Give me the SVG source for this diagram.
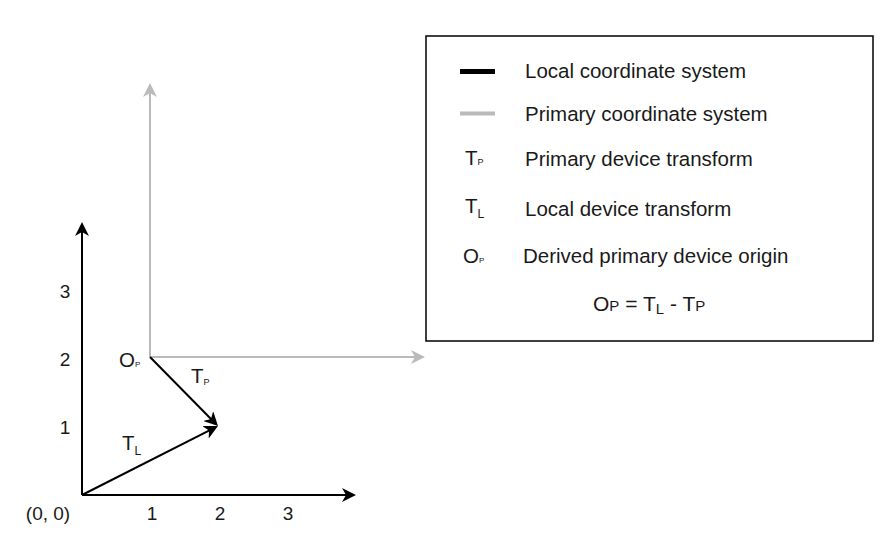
<svg xmlns="http://www.w3.org/2000/svg" width="894" height="552" viewBox="0 0 894 552">
  <style>
    text { font-family: "Liberation Sans", Arial, Helvetica, sans-serif; fill: #1a1a1a; }
    .t20 { font-size: 20.5px; }
    .num { font-size: 19px; text-anchor: middle; }
    .blk { stroke: #000; stroke-width: 2; fill: none; }
    .gry { stroke: #bababa; stroke-width: 2; fill: none; }
  </style>
  <defs>
    <marker id="ab" viewBox="0 0 14 14" refX="10" refY="7" markerWidth="14" markerHeight="14" markerUnits="userSpaceOnUse" orient="auto">
      <path d="M0,0 L14,7 L0,14 L4,7 Z" fill="#000"/>
    </marker>
    <marker id="ag" viewBox="0 0 14 14" refX="10" refY="7" markerWidth="14" markerHeight="14" markerUnits="userSpaceOnUse" orient="auto">
      <path d="M0,0 L14,7 L0,14 L4,7 Z" fill="#bababa"/>
    </marker>
  </defs>
  <rect width="894" height="552" fill="#fff"/>

  <g id="connectors">
    <path id="primary-y" class="gry" d="M150,357 L150,87" marker-end="url(#ag)"/>
    <path id="primary-x" class="gry" d="M150,357 L421,357" marker-end="url(#ag)"/>
    <path id="local-y" class="blk" d="M82,495 L82,226" marker-end="url(#ab)"/>
    <path id="local-x" class="blk" d="M82,495 L352,495" marker-end="url(#ab)"/>
    <path id="vec-tp" class="blk" d="M150,357 L215.2,423.2" marker-end="url(#ab)"/>
    <path id="vec-tl" class="blk" d="M82,495 L214.4,427.8" marker-end="url(#ab)"/>
  </g>

  <g id="axis-labels">
    <text class="num" x="65" y="298">3</text>
    <text class="num" x="65" y="366">2</text>
    <text class="num" x="65" y="434">1</text>
    <text class="num" x="48" y="520">(0, 0)</text>
    <text class="num" x="152" y="520">1</text>
    <text class="num" x="220" y="520">2</text>
    <text class="num" x="288" y="520">3</text>
  </g>

  <g id="vector-labels">
    <text id="lbl-op" class="t20" x="119" y="367">O<tspan font-size="8">P</tspan></text>
    <text id="lbl-tp" class="t20" x="191" y="383">T<tspan font-size="9" dy="2">P</tspan></text>
    <text id="lbl-tl" class="t20" x="122" y="450">T<tspan font-size="12" dy="5">L</tspan></text>
  </g>

  <g id="legend">
    <rect x="426" y="36" width="447" height="305" fill="#fff" stroke="#000" stroke-width="1.5"/>
    <line x1="460" y1="71.5" x2="495" y2="71.5" stroke="#000" stroke-width="5"/>
    <line x1="460" y1="113.5" x2="495" y2="113.5" stroke="#bababa" stroke-width="4"/>
    <text class="t20" x="465" y="165">T<tspan font-size="9">P</tspan></text>
    <text class="t20" x="465" y="213">T<tspan font-size="12" dy="5">L</tspan></text>
    <text class="t20" x="463" y="263">O<tspan font-size="8">P</tspan></text>
    <text class="t20" x="525" y="78">Local coordinate system</text>
    <text class="t20" x="525" y="121">Primary coordinate system</text>
    <text class="t20" x="525" y="166">Primary device transform</text>
    <text class="t20" x="525" y="216">Local device transform</text>
    <text class="t20" x="523" y="263">Derived primary device origin</text>
    <text x="593" y="311" font-size="21">O<tspan font-size="15">P</tspan> = T<tspan font-size="15" dy="3">L</tspan><tspan dy="-3"> - T</tspan><tspan font-size="15">P</tspan></text>
  </g>
</svg>
